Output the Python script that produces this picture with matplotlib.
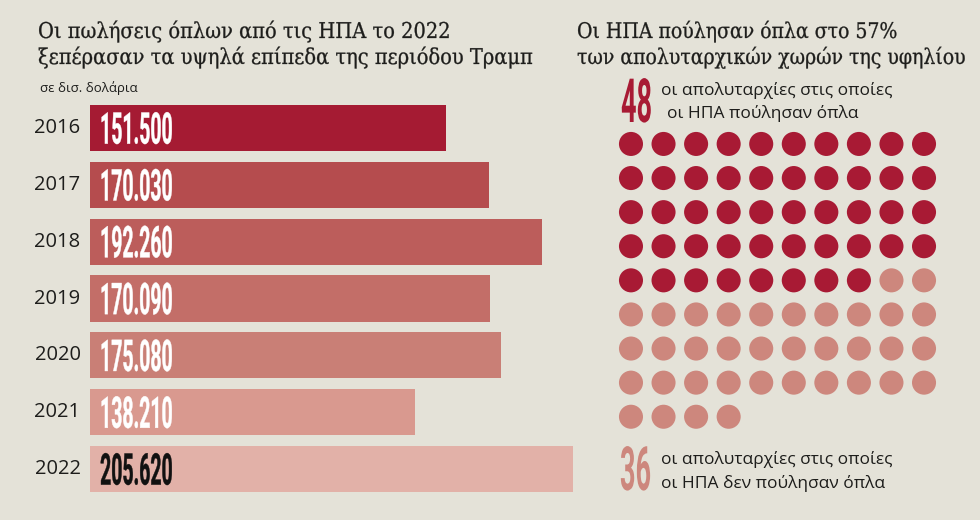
import matplotlib
matplotlib.use("Agg")
import matplotlib.pyplot as plt
from matplotlib.patheffects import AbstractPathEffect
from matplotlib.transforms import Affine2D

# ---------- data ----------
years = ["2016", "2017", "2018", "2019", "2020", "2021", "2022"]
sales = [151500, 170030, 192260, 170090, 175080, 138210, 205620]
bar_colors = ["#a51b33", "#b54c4e", "#bc5d5b", "#c36e68", "#c97f76", "#d9998f", "#e2b1a8"]
label_colors = ["white", "white", "white", "white", "white", "white", "#111111"]

n_sold = 48       # απολυταρχίες όπου πούλησαν όπλα
n_not_sold = 36   # απολυταρχίες όπου δεν πούλησαν
n_cols = 10

title_left = ["Οι πωλήσεις όπλων από τις ΗΠΑ το 2022",
              "ξεπέρασαν τα υψηλά επίπεδα της περιόδου Τραμπ"]
title_right = ["Οι ΗΠΑ πούλησαν όπλα στο 57%",
               "των απολυταρχικών χωρών της υφηλίου"]
unit_label = "σε δισ. δολάρια"
sold_lines = ["οι απολυταρχίες στις οποίες", "οι ΗΠΑ πούλησαν όπλα"]
not_sold_lines = ["οι απολυταρχίες στις οποίες", "οι ΗΠΑ δεν πούλησαν όπλα"]

BG = "#e4e2d8"
DARK = "#a81a34"
LIGHT = "#cd877d"
INK = "#1d1d1b"
W, H = 980, 520

cond = ["Roboto", "DejaVu Sans"]
sans = ["Open Sans", "DejaVu Sans"]
serif = ["DejaVu Serif"]


class Tall(AbstractPathEffect):
    """τεντώνει το κείμενο κάθετα γύρω από τη γραμμή βάσης (για condensed όψη)"""
    def __init__(self, sy, bold=0.0):
        super().__init__()
        self.sy = sy
        self.bold = bold

    def draw_path(self, renderer, gc, tpath, affine, rgbFace=None):
        y0 = affine.get_matrix()[1, 2]
        t = affine + Affine2D().translate(0, -y0).scale(1, self.sy).translate(0, y0)
        gc0 = renderer.new_gc()
        gc0.copy_properties(gc)
        if self.bold > 0 and rgbFace is not None:
            gc0.set_linewidth(self.bold)
            gc0.set_foreground(rgbFace)
        renderer.draw_path(gc0, tpath, t, rgbFace)
        gc0.restore()


def px(x, y):
    return x / W, 1 - y / H


fig = plt.figure(figsize=(W / 100, H / 100), dpi=100)
fig.patch.set_facecolor(BG)

# ---------- titles ----------
for i, line in enumerate(title_left):
    fig.text(*px(38, 38 + 26 * i), line, family=serif, fontsize=14.0, color=INK,
             va="baseline", path_effects=[Tall(1.12, bold=0.2)])
for i, line in enumerate(title_right):
    fig.text(*px(577, 38 + 26 * i), line, family=serif, fontsize=13.6, color=INK,
             va="baseline", path_effects=[Tall(1.14, bold=0.2)])
fig.text(*px(40, 92), unit_label, family=sans, fontsize=9.5, color=INK, va="baseline")

# ---------- bars ----------
ax = fig.add_axes([90 / W, (H - 497.4) / H, (573 - 90) / W, 397.8 / H])
ax.set_facecolor(BG)
pos = list(range(len(years)))
ax.barh(pos, sales, height=0.81, color=bar_colors)
ax.set_xlim(0, max(sales))
ax.set_ylim(len(years) - 0.5, -0.5)
ax.axis("off")
for i, (yr, v) in enumerate(zip(years, sales)):
    ax.text(-4000, i, yr, family=sans, fontsize=14.5, color=INK, ha="right", va="center")
    lbl = f"{v:,}".replace(",", ".")
    ax.text(4300, i + 0.275, lbl, family=cond, fontweight="bold", fontsize=14.0,
            color=label_colors[i], ha="left", va="baseline",
            path_effects=[Tall(2.25, bold=0.3)])

# ---------- dots ----------
axd = fig.add_axes([614.7 / W, (H - 433.8) / H, 325.6 / W, 306.9 / H])
axd.set_facecolor("none")
total = n_sold + n_not_sold
xs = [i % n_cols for i in range(total)]
ys = [i // n_cols for i in range(total)]
cols = [DARK] * n_sold + [LIGHT] * n_not_sold
axd.scatter(xs, ys, s=300, c=cols, linewidths=0)
axd.set_xlim(-0.5, n_cols - 0.5)
axd.set_ylim((total - 1) // n_cols + 0.5, -0.5)
axd.axis("off")

# ---------- dot legends ----------
fig.text(*px(621, 122), str(n_sold), family=cond, fontweight="bold", fontsize=19.5,
         color=DARK, va="baseline", path_effects=[Tall(2.25)])
fig.text(*px(661, 95), sold_lines[0], family=sans, fontsize=12.5, color=INK, va="baseline")
fig.text(*px(667, 118), sold_lines[1], family=sans, fontsize=12.5, color=INK, va="baseline")

fig.text(*px(620, 490), str(n_not_sold), family=cond, fontweight="bold", fontsize=19.5,
         color=LIGHT, va="baseline", path_effects=[Tall(2.25)])
fig.text(*px(661, 464), not_sold_lines[0], family=sans, fontsize=12.5, color=INK, va="baseline")
fig.text(*px(661, 488), not_sold_lines[1], family=sans, fontsize=12.5, color=INK, va="baseline")

fig.savefig("out.png", dpi=100, facecolor=BG)
